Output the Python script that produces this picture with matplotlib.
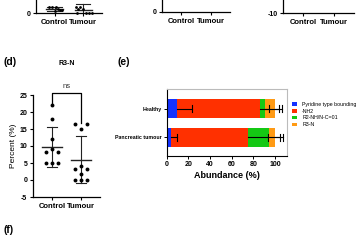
import matplotlib
matplotlib.use("Agg")
import matplotlib.pyplot as plt
from matplotlib.patches import Patch

plt.rcParams['font.family'] = ['Liberation Sans', 'DejaVu Sans']

W, H = 360, 243

# ---------------- data ----------------
groups = ["Control", "Tumour"]

# top-left partial panel (values only partly visible)
p1_control = [0.65, 0.62, 0.66, 0.45, 0.33, 0.33, 0.2]
p1_control_off = [-0.2, -0.1, 0.05, 0.12, 0.2, 0.27, 0.0]
p1_tumour = [0.62, 0.6, 0.4, 0.4, 0.02, 0.0, 0.0, 0.0]
p1_tumour_off = [-0.25, -0.1, -0.18, 0.0, -0.2, 0.1, 0.2, 0.3]
p1_mean = [0.45, 0.35]
p1_sd = [0.2, 0.55]

# panel (d) R3-N
d_control = [22, 18, 12, 9, 8.3, 8.3, 5, 5, 5]
d_control_off = [0, 0, 0, 0, -0.2, 0.2, -0.2, 0, 0.2]
d_tumour = [16.5, 16.5, 15, 4, 3.3, 3.3, 1.8, 0, 0, 0]
d_tumour_off = [-0.2, 0.2, 0, 0, -0.2, 0.2, 0, -0.2, 0, 0.2]
d_mean = [9.8, 5.9]
d_sd = [5.9, 6.9]
d_yticks = [-5, 0, 5, 10, 15, 20, 25]

# panel (e) stacked abundance
e_categories = ["Pancreatic tumour", "Healthy"]
e_series = ["Pyridine type bounding", "-NH2", "R2-NH/N-C=01", "R3-N"]
e_values = {
    "Healthy": [9.8, 76.4, 4.6, 9.2],
    "Pancreatic tumour": [3.7, 71.7, 19.4, 5.2],
}
e_errors = {
    "Healthy": [13.2, 8.3, 13.2, 6.0],
    "Pancreatic tumour": [5.5, 18.4, 9.8, 7.7],
}
e_colors = ["#1432FF", "#FF3000", "#14C814", "#FF9A14"]
e_xticks = [0, 20, 40, 60, 80, 100]


def box(l, t, r, b):
    return [l / W, 1 - b / H, (r - l) / W, (b - t) / H]


def ft(x, y, s, **kw):
    fig.text(x / W, 1 - y / H, s, **kw)


fig = plt.figure(figsize=(W / 100, H / 100), dpi=100)


def dot_axes(ax):
    for s in ("top", "right"):
        ax.spines[s].set_visible(False)
    for s in ("left", "bottom"):
        ax.spines[s].set_linewidth(0.9)
    ax.tick_params(axis="both", length=2.5, width=0.8, pad=1.5, labelsize=5)
    ax.set_xticks([0, 1])
    ax.set_xticklabels(groups, fontsize=5.5, fontweight="bold")
    ax.set_xlim(-0.65, 1.65)


def draw_scatter(ax, vals_list, offs_list, means, sds, ms=2.8, cap=0.17, half=0.34):
    for i, (vals, offs) in enumerate(zip(vals_list, offs_list)):
        ax.plot([i + o for o in offs], vals, "o", color="black", ms=ms,
                mec="none", clip_on=False, zorder=3)
        m, s = means[i], sds[i]
        ax.plot([i - half, i + half], [m, m], color="#222222", lw=1.0, zorder=2)
        ax.plot([i, i], [m - s, m + s], color="#222222", lw=0.8, zorder=2)
        for yv in (m - s, m + s):
            ax.plot([i - cap, i + cap], [yv, yv], color="#222222", lw=0.8, zorder=2)


# ---- top-left partial panel ----
ax1 = fig.add_axes(box(36, -36.7, 101.7, 13.3))
dot_axes(ax1)
ax1.set_ylim(0, 5)
ax1.set_yticks([0])
ax1.set_yticklabels(["0"], fontweight="bold")
draw_scatter(ax1, [p1_control, p1_tumour], [p1_control_off, p1_tumour_off],
             p1_mean, p1_sd, ms=2.0, cap=0.25, half=0.3)

# ---- top-middle partial panel ----
ax2 = fig.add_axes(box(162, -40, 230, 12))
dot_axes(ax2)
ax2.set_ylim(0, 5)
ax2.set_yticks([0])
ax2.set_yticklabels(["0"], fontweight="bold")

# ---- top-right partial panel ----
ax3 = fig.add_axes(box(283, -40, 354, 13))
dot_axes(ax3)
ax3.set_ylim(-10, 10)
ax3.set_yticks([-10])
ax3.set_yticklabels(["-10"], fontweight="bold")

# ---- panel (d) ----
axd = fig.add_axes(box(33, 95, 100, 197))
dot_axes(axd)
axd.set_ylim(-5, 25)
axd.set_yticks(d_yticks)
axd.set_yticklabels([str(v) for v in d_yticks], fontsize=5, fontweight="bold")
axd.set_ylabel("Percent (%)", fontsize=6, labelpad=2)
draw_scatter(axd, [d_control, d_tumour], [d_control_off, d_tumour_off], d_mean, d_sd)
# significance bracket
axd.plot([0, 0, 1, 1], [22.6, 25.7, 25.7, 16.9], color="black", lw=0.9, clip_on=False)
axd.text(0.5, 26.6, "ns", ha="center", va="bottom", fontsize=5.5, color="#333333")
ft(66.5, 63, "R3-N", ha="center", va="center", fontsize=5, fontweight="bold")
ft(3, 62, "(d)", ha="left", va="center", fontsize=7.5, fontweight="bold")

# ---- panel (e) ----
axe = fig.add_axes(box(166.7, 89.3, 286.7, 156))
axe.set_xlim(0, 110.8)
axe.set_ylim(-0.66, 1.69)
for yi, cat in enumerate(e_categories):
    left = 0
    ends = []
    for si, v in enumerate(e_values[cat]):
        axe.barh(yi, v, left=left, height=0.67, color=e_colors[si], edgecolor="none", zorder=2)
        left += v
        ends.append(left)
    for si, end in enumerate(ends):
        err = e_errors[cat][si]
        axe.plot([end, end + err], [yi, yi], color="black", lw=0.8, zorder=3)
        axe.plot([end + err, end + err], [yi - 0.12, yi + 0.12], color="black", lw=0.8, zorder=3)
axe.set_yticks(range(len(e_categories)))
axe.set_yticklabels(e_categories, fontsize=3.8, fontweight="bold")
axe.set_xticks(e_xticks)
axe.set_xticklabels([str(v) for v in e_xticks], fontsize=5, fontweight="bold")
axe.tick_params(axis="both", length=2, width=0.7, pad=1.5)
for s in ("top", "right"):
    axe.spines[s].set_color("#BBBBBB")
    axe.spines[s].set_linewidth(0.8)
for s in ("left", "bottom"):
    axe.spines[s].set_linewidth(0.8)
axe.set_xlabel("Abundance (%)", fontsize=6.5, fontweight="bold", labelpad=2)
handles = [Patch(facecolor=c, edgecolor="none") for c in e_colors]
fig.legend(handles, e_series, loc="upper left", bbox_to_anchor=(288 / W, 1 - 98 / H),
           fontsize=3.8, frameon=False, handlelength=1.0, handleheight=0.7,
           handletextpad=1.0, labelspacing=0.35, borderpad=0.2)
ft(118, 62, "(e)", ha="left", va="center", fontsize=7.5, fontweight="bold")

ft(3, 230, "(f)", ha="left", va="center", fontsize=7.5, fontweight="bold")

fig.savefig("out.png", dpi=100)
